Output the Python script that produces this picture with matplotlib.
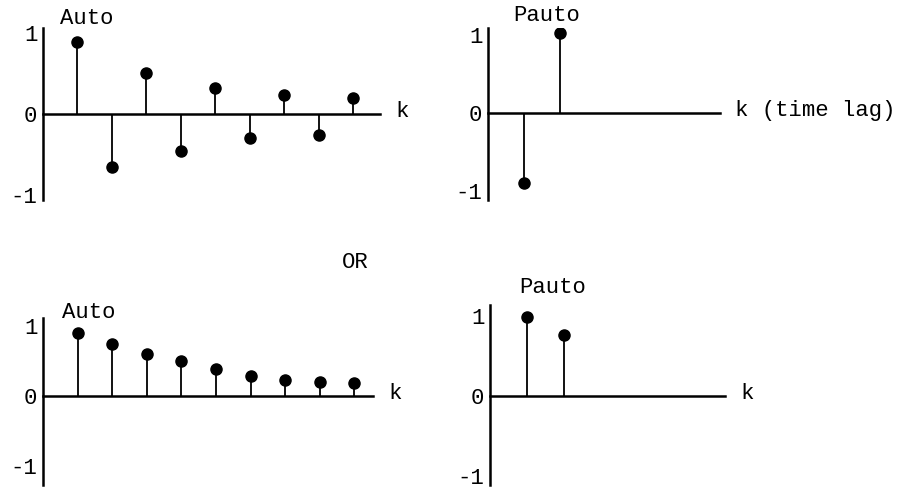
import numpy as np
import matplotlib
matplotlib.use("Agg")
import matplotlib.pyplot as plt

# ------------------------------------------------------------
# values
# ------------------------------------------------------------
auto_top = [0.89, -0.65, 0.51, -0.45, 0.32, -0.30, 0.24, -0.26, 0.20]
pauto_top = [-0.90, 1.03]
auto_bottom = [0.90, 0.74, 0.60, 0.50, 0.38, 0.29, 0.22, 0.20, 0.18]
pauto_bottom = [0.99, 0.76]

ytick_vals = [-1, 0, 1]
ytick_labels = ["-1", "0", "1"]

# typewriter look
plt.rcParams['font.family'] = ['Liberation Mono', 'DejaVu Sans Mono']
FS = 16

W, H = 910, 492
fig = plt.figure(figsize=(W / 100, H / 100), dpi=100)


def panel(px_left, px_right, px_top, px_bottom):
    # place an axes by pixel box
    return fig.add_axes([px_left / W, 1 - px_bottom / H,
                         (px_right - px_left) / W, (px_bottom - px_top) / H])


def stem_panel(ax, vals, xmax, ylim, title, title_xy, klabel):
    k = np.arange(1, len(vals) + 1)
    ml, sl, bl = ax.stem(k, vals, linefmt='k-', markerfmt='ko', basefmt=' ')
    ml.set_markersize(8)
    sl.set_linewidth(1.3)
    ax.set_xlim(0, xmax)
    ax.set_ylim(*ylim)
    ax.spines['top'].set_visible(False)
    ax.spines['right'].set_visible(False)
    ax.spines['bottom'].set_position(('data', 0))
    ax.spines['left'].set_linewidth(1.8)
    ax.spines['bottom'].set_linewidth(1.8)
    ax.set_xticks([])
    ax.set_yticks(ytick_vals)
    ax.set_yticklabels(ytick_labels, fontsize=FS)
    ax.tick_params(axis='y', length=0, pad=4)
    ax.patch.set_alpha(0)
    ax.text(title_xy[0], title_xy[1], title, fontsize=FS, ha='left',
            va='center', clip_on=False)
    ax.annotate(klabel, xy=(xmax, 0), xytext=(11, 2), textcoords='offset points',
                fontsize=FS, ha='left', va='center', annotation_clip=False)


ax1 = panel(43, 380, 28, 200)
stem_panel(ax1, auto_top, 9.77, (-1.06, 1.06), "Auto", (0.5, 1.18), "k")

ax2 = panel(488, 720, 28, 200)
stem_panel(ax2, pauto_top, 6.44, (-1.115, 1.09), "Pauto", (0.7, 1.25),
           "k (time lag)")

ax3 = panel(43, 373, 318, 485)
stem_panel(ax3, auto_bottom, 9.54, (-1.27, 1.11), "Auto", (0.55, 1.19), "k")

ax4 = panel(490, 725, 305, 485)
stem_panel(ax4, pauto_bottom, 6.35, (-1.11, 1.14), "Pauto", (0.8, 1.36), "k")

fig.text(355 / W, 1 - 262 / H, "OR", fontsize=FS, ha='center', va='center')

plt.savefig("out.png", dpi=100)
